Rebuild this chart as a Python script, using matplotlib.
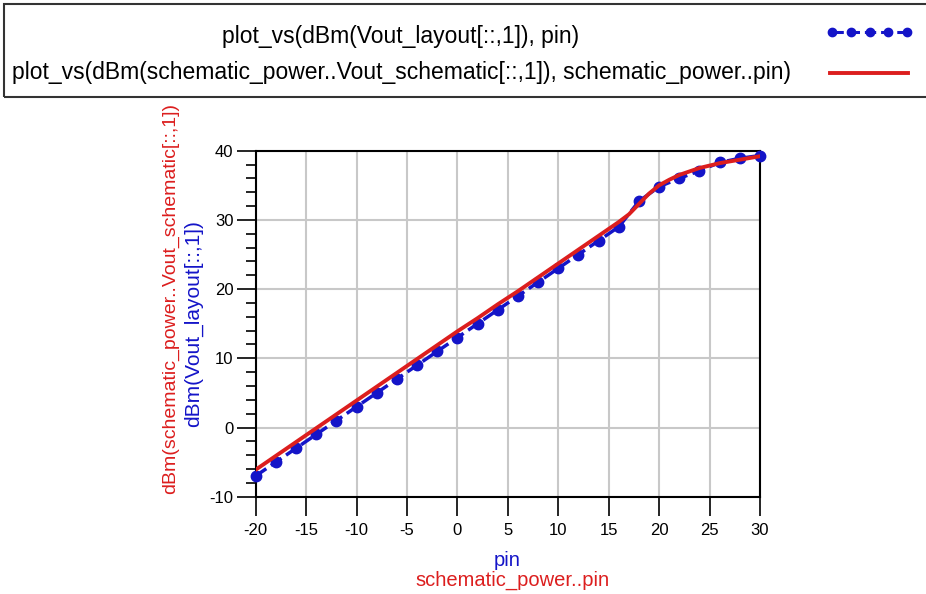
import numpy as np
import matplotlib.pyplot as plt
from matplotlib.patches import Rectangle
from matplotlib.lines import Line2D

plt.rcParams['font.family'] = ['Liberation Sans', 'DejaVu Sans']
plt.rcParams['axes.unicode_minus'] = False

# layout data (measured points, every 2 dBm)
pin_layout = [-20, -18, -16, -14, -12, -10, -8, -6, -4, -2, 0, 2, 4, 6, 8,
              10, 12, 14, 16, 18, 20, 22, 24, 26, 28, 30]
vout_layout = [-7.0, -5.0, -3.0, -1.0, 1.0, 3.0, 5.0, 7.0, 9.0, 11.0, 13.0,
               15.0, 17.0, 19.0, 21.0, 23.0, 25.0, 27.0, 29.0, 32.7, 34.8,
               36.0, 37.1, 38.3, 38.9, 39.3]

# schematic data
pin_schem = [-20, -18, -16, -14, -12, -10, -8, -6, -4, -2, 0, 2, 4, 6, 8,
             10, 12, 14, 16, 17, 18, 19, 20, 21, 22, 23, 24, 26, 28, 30]
vout_schem = [-6.1, -4.1, -2.1, -0.1, 1.9, 3.9, 5.9, 7.9, 9.9, 11.9, 13.9,
              15.8, 17.8, 19.7, 21.7, 23.7, 25.7, 27.7, 29.7, 30.8, 32.3,
              33.8, 35.0, 35.8, 36.5, 37.0, 37.5, 38.2, 38.7, 39.2]

legend_texts = ['plot_vs(dBm(Vout_layout[::,1]), pin)',
                'plot_vs(dBm(schematic_power..Vout_schematic[::,1]), schematic_power..pin)']

blue = '#1414c8'
red = '#dc1e1e'

fig = plt.figure(figsize=(9.26, 5.94), dpi=100)
W, H = 926, 594

# legend box at top
fig.patches.append(Rectangle((4 / W, 1 - 97 / H), 1.0, 93 / H, transform=fig.transFigure,
                             fill=False, edgecolor='#333333', linewidth=1.5))
fig.text(401 / W, 1 - 36 / H, legend_texts[0], ha='center', va='center', fontsize=16.5, color='black')
fig.text(401 / W, 1 - 72 / H, legend_texts[1], ha='center', va='center', fontsize=16.5, color='black')
fig.lines.append(Line2D(np.linspace(832, 907, 5) / W, [1 - 32 / H] * 5, transform=fig.transFigure,
                        color=blue, linestyle='--', linewidth=2.2, marker='o', markersize=6))
fig.lines.append(Line2D([830 / W, 908 / W], [1 - 73 / H] * 2, transform=fig.transFigure,
                        color=red, linewidth=2.8))

ax = fig.add_axes([255.7 / W, 97.3 / H, (760 - 255.7) / W, (496.7 - 150.7) / H])
ax.plot(pin_layout, vout_layout, color=blue, linestyle='--', linewidth=2.5,
        marker='o', markersize=7.5, zorder=3, clip_on=False)
ax.plot(pin_schem, vout_schem, color=red, linewidth=2.8, zorder=4)

ax.set_xlim(-20, 30)
ax.set_ylim(-10, 40)
ax.set_xticks(np.arange(-20, 31, 5))
ax.set_yticks(np.arange(-10, 41, 10))
ax.set_yticks(np.arange(-10, 41, 2), minor=True)
ax.grid(True, which='major', color='#c8c8c8', linewidth=1.5)
ax.set_axisbelow(True)
ax.tick_params(which='major', direction='out', length=14, width=1.2, labelsize=12, pad=2)
ax.tick_params(axis='y', which='minor', direction='out', length=7, width=1.2)
ax.tick_params(axis='x', pad=5)
for s in ax.spines.values():
    s.set_linewidth(1.5)
    s.set_color('black')

# axis labels in two colours
fig.text(171 / W, 1 - 299 / H, 'dBm(schematic_power..Vout_schematic[::,1])', rotation=90,
         ha='center', va='center', fontsize=14, color=red)
fig.text(193 / W, 1 - 324 / H, 'dBm(Vout_layout[::,1])', rotation=90,
         ha='center', va='center', fontsize=15, color=blue)
fig.text(507 / W, 1 - 561 / H, 'pin', ha='center', va='center', fontsize=14.5, color=blue)
fig.text(512 / W, 1 - 580 / H, 'schematic_power..pin', ha='center', va='center', fontsize=14.5, color=red)

fig.savefig('out.png', dpi=100)
